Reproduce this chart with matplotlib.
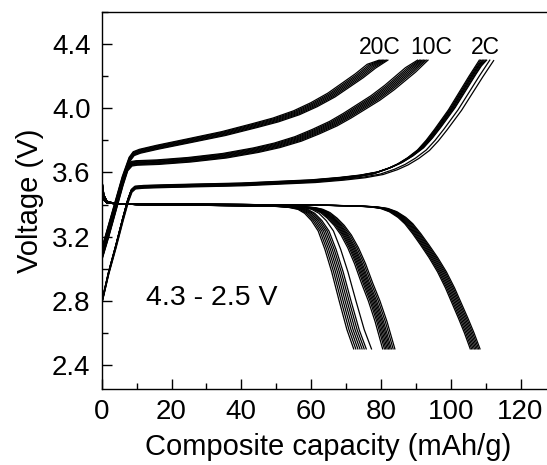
import matplotlib
matplotlib.use("Agg")
import matplotlib.pyplot as plt
from matplotlib.ticker import MultipleLocator
import numpy as np

plt.rcParams['font.family'] = ['Liberation Sans', 'DejaVu Sans']

# ---- base curve shapes (capacity mAh/g, voltage V) ----
# charge curves
ch2_cap = [0.0, 0.2, 2, 4, 6, 7.5, 8.5, 9.5, 12, 20, 30, 40, 50, 60, 68, 74, 79, 83, 86,
           89, 92, 94.5, 97, 99, 101, 103, 105, 107, 108.5, 110]
ch2_v   = [2.68, 2.80, 2.97, 3.13, 3.30, 3.42, 3.48, 3.50, 3.505, 3.51, 3.515, 3.52, 3.53,
           3.54, 3.555, 3.57, 3.59, 3.62, 3.65, 3.69, 3.74, 3.80, 3.87, 3.93, 3.99, 4.06,
           4.13, 4.20, 4.25, 4.30]

ch10_cap = [0.0, 2, 4, 6, 7.3, 8.5, 10, 16, 25, 35, 44, 50, 56, 61, 66, 70, 74, 78, 82, 85, 88, 91.5]
ch10_v   = [3.05, 3.20, 3.36, 3.52, 3.61, 3.64, 3.645, 3.65, 3.665, 3.69, 3.725, 3.755, 3.795,
            3.84, 3.89, 3.94, 3.995, 4.05, 4.115, 4.17, 4.225, 4.30]

ch20_cap = [0.0, 2, 4, 6, 8, 9.2, 11, 16, 25, 35, 44, 50, 56, 61, 66, 70, 74, 77.5, 81]
ch20_v   = [3.10, 3.25, 3.40, 3.55, 3.67, 3.705, 3.72, 3.745, 3.785, 3.83, 3.88, 3.915, 3.96,
            4.01, 4.07, 4.13, 4.19, 4.25, 4.30]

# discharge curves
dc2_cap = [0.0, 0.6, 1.5, 4, 10, 40, 65, 74, 78, 81, 83.5, 86, 88, 90.2, 92.5, 95, 97.5,
           99.8, 101.8, 103.6, 105.3, 107]
dc2_v   = [3.47, 3.43, 3.41, 3.405, 3.405, 3.40, 3.395, 3.39, 3.385, 3.375, 3.355, 3.32,
           3.28, 3.22, 3.15, 3.07, 2.98, 2.88, 2.78, 2.69, 2.60, 2.50]

dc10_cap = [0.0, 0.6, 1.5, 4, 10, 40, 56, 60, 62, 64, 66, 68, 70, 72, 74, 76, 78, 80, 82.2]
dc10_v   = [3.50, 3.44, 3.41, 3.405, 3.40, 3.395, 3.388, 3.38, 3.37, 3.35, 3.315, 3.27,
            3.21, 3.13, 3.03, 2.91, 2.80, 2.67, 2.50]

dc20_cap = [0.0, 0.6, 1.5, 4, 10, 30, 50, 55, 58, 60, 62, 64, 66, 68, 70.2, 72.5, 74.5]
dc20_v   = [3.56, 3.46, 3.42, 3.405, 3.40, 3.395, 3.39, 3.383, 3.37, 3.345, 3.30, 3.235,
            3.12, 2.98, 2.80, 2.62, 2.50]

# end capacities of the individual cycles
ch2_ends  = [108.2, 108.6, 109.0, 109.3, 109.6, 110.0, 110.3, 111.2, 112.3]
dc2_ends  = [105.6, 106.0, 106.4, 106.8, 107.2, 107.6, 108.0, 108.4]
ch10_ends = [90.5, 91.0, 91.4, 91.8, 92.2, 92.6, 93.0, 93.5]
dc10_ends = [80.5, 81.0, 81.4, 81.8, 82.2, 82.6, 83.0, 83.5, 84.0]
ch20_ends = [79.5, 80.0, 80.4, 80.8, 81.2, 81.6, 82.0]
dc20_ends = [72.2, 72.8, 73.4, 74.0, 74.6, 75.2, 75.8, 77.3]

# per-cycle voltage shift of the charge curves (band thickness, V)
ch2_shift  = [0.0, 0.003, 0.006, 0.008, 0.010, 0.012, 0.014, 0.0, -0.003]
ch10_shift = [0.028, 0.024, 0.020, 0.016, 0.012, 0.008, 0.004, 0.0]
ch20_shift = [0.024, 0.020, 0.016, 0.012, 0.008, 0.004, 0.0]

rate_labels = ["20C", "10C", "2C"]
rate_label_x = [79.7, 94.4, 110.0]
rate_label_y = 4.38
window_text = "4.3 - 2.5 V"
yticks = [2.4, 2.8, 3.2, 3.6, 4.0, 4.4]
ytick_labels = ["2.4", "2.8", "3.2", "3.6", "4.0", "4.4"]

fig = plt.figure(figsize=(5.47, 4.65), dpi=100)
ax = fig.add_axes([101.7 / 547, 76 / 465, (130 * 3.49) / 547, 377 / 465])

def draw(base_cap, base_v, ends, shifts=None):
    bc = np.asarray(base_cap)
    bv = np.asarray(base_v)
    for i, e in enumerate(ends):
        dv = shifts[i] if shifts is not None else 0.0
        v = np.minimum(bv + dv, 4.30)
        ax.plot(bc * e / bc[-1], v, color='black', lw=0.9)

draw(ch2_cap, ch2_v, ch2_ends, ch2_shift)
draw(dc2_cap, dc2_v, dc2_ends)
draw(ch10_cap, ch10_v, ch10_ends, ch10_shift)
draw(dc10_cap, dc10_v, dc10_ends)
draw(ch20_cap, ch20_v, ch20_ends, ch20_shift)
draw(dc20_cap, dc20_v, dc20_ends)

ax.set_xlim(0, 130)
ax.set_ylim(2.25, 4.6)
ax.xaxis.set_major_locator(MultipleLocator(20))
ax.xaxis.set_minor_locator(MultipleLocator(10))
ax.yaxis.set_minor_locator(MultipleLocator(0.2))
ax.set_yticks(yticks)
ax.set_yticklabels(ytick_labels)
ax.tick_params(which='both', direction='in', labelsize=20, width=1)
ax.tick_params(which='major', length=7)
ax.tick_params(which='minor', length=4)
ax.tick_params(axis='y', which='major', pad=8)
ax.tick_params(axis='x', which='major', pad=7)
ax.spines['right'].set_visible(False)
for s in ['left', 'bottom', 'top']:
    ax.spines[s].set_linewidth(1.0)

ax.set_xlabel("Composite capacity (mAh/g)", fontsize=21, labelpad=6)
ax.set_ylabel("Voltage (V)", fontsize=21, labelpad=6)

for lbl, x in zip(rate_labels, rate_label_x):
    ax.text(x, rate_label_y, lbl, fontsize=16.5, ha='center', va='center')
ax.text(31.6, 2.82, window_text, fontsize=20.5, ha='center', va='center')

fig.savefig("out.png", dpi=100)
